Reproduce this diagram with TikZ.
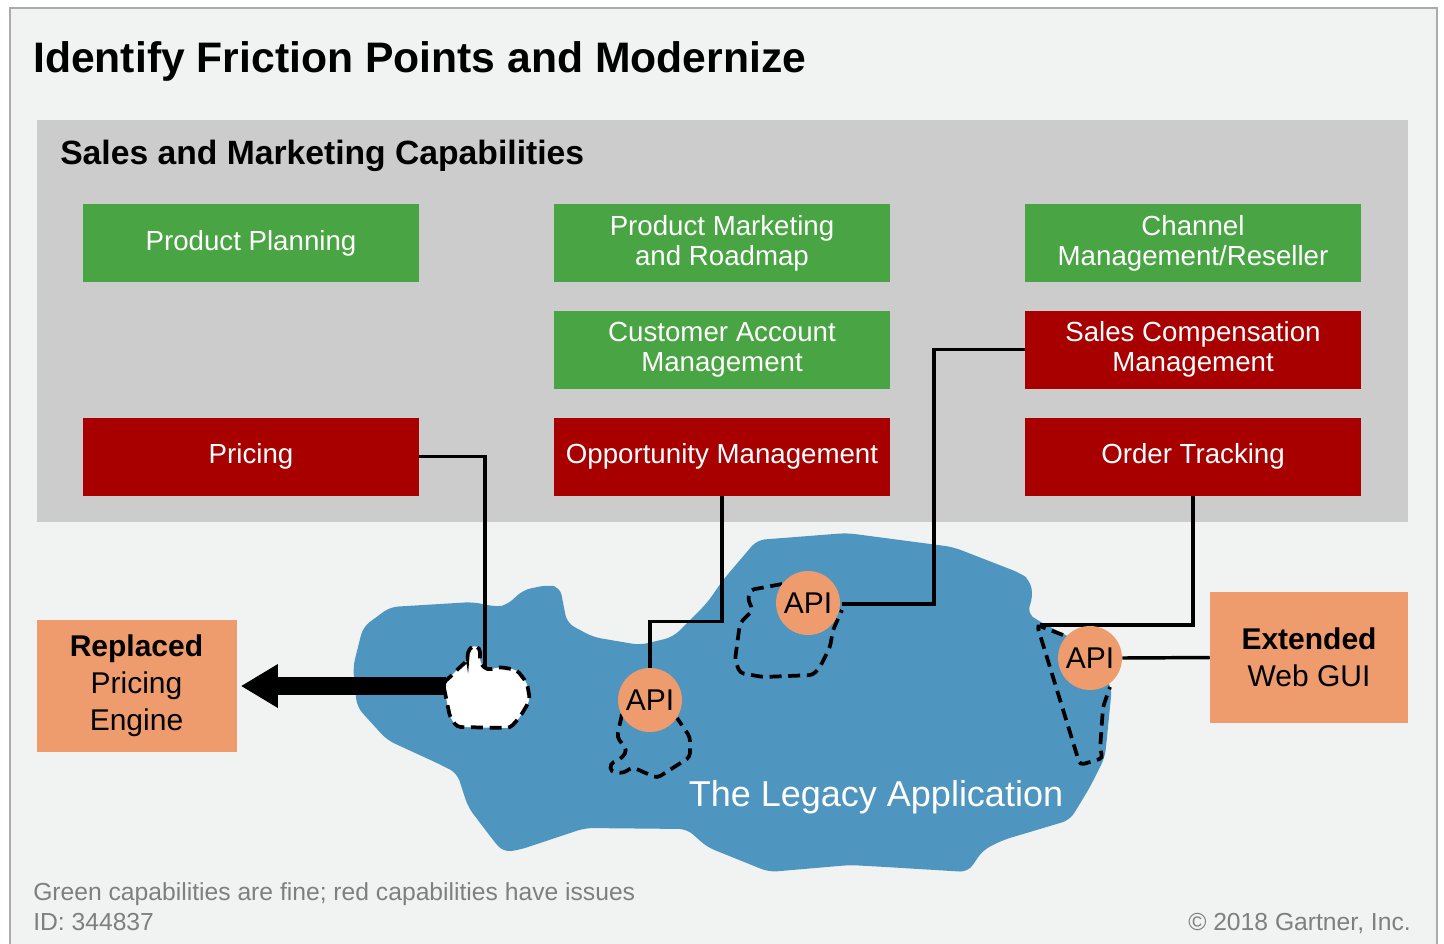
\documentclass[tikz,border=0pt]{standalone}
\usepackage{fontspec}
\setmainfont{Liberation Sans}
\usetikzlibrary{arrows.meta}
\definecolor{pagebg}{HTML}{F1F2F2}
\definecolor{framegrey}{HTML}{ABABAB}
\definecolor{panelgrey}{HTML}{CCCCCC}
\definecolor{okgreen}{HTML}{49A443}
\definecolor{issuered}{HTML}{A80000}
\definecolor{salmon}{HTML}{EE9B6D}
\definecolor{legacyblue}{HTML}{4E95C0}
\definecolor{notegrey}{HTML}{7F7F7F}
\begin{document}
\begin{tikzpicture}[x=0.75pt,y=-0.75pt,
	capbox/.style={minimum width=252pt,minimum height=58.5pt,inner sep=0pt,
		text=white,align=center,font=\fontsize{20.75}{22.5}\selectfont},
	capok/.style={capbox,fill=okgreen},
	capbad/.style={capbox,fill=issuered},
	sidebox/.style={fill=salmon,inner sep=0pt,align=center,
		font=\fontsize{22.5}{27.75}\selectfont},
	apicirc/.style={circle,fill=salmon,minimum size=48pt,inner sep=0pt,
		font=\fontsize{22.5}{24}\selectfont},
	cutline/.style={line width=2.8pt,dash pattern=on 9pt off 5pt,rounded corners=3pt},
	link/.style={line width=2.6pt}]
	\useasboundingbox (0,0) rectangle (1444,943);
	\clip (0,0) rectangle (1444,943);
	%背景和标题
	\draw[framegrey,fill=pagebg,line width=1.5pt] (10,8) rectangle (1437,970);
	\node[anchor=base west,inner sep=0pt,font=\fontsize{32}{34}\bfseries] (title) at (33,72)
		{Identify Friction Points and Modernize};
	\fill[panelgrey] (37,120) rectangle (1408,522);
	\node[anchor=base west,inner sep=0pt,font=\fontsize{25.25}{27}\bfseries] (panel) at (60,164)
		{Sales and Marketing Capabilities};
	%能力方块
	\node[capok] (planning) at (251,243) {Product Planning};
	\node[capok] (marketing) at (722,243) {Product Marketing\\and Roadmap};
	\node[capok] (channel) at (1193,243) {Channel\\Management/Reseller};
	\node[capok] (account) at (722,349.5) {Customer Account\\Management};
	\node[capbad] (salescomp) at (1193,349.5) {Sales Compensation\\Management};
	\node[capbad] (pricing) at (251,456.5) {Pricing};
	\node[capbad] (opportunity) at (722,456.5) {Opportunity Management};
	\node[capbad] (tracking) at (1193,456.5) {Order Tracking};
	%遗留系统
	\fill[legacyblue,rounded corners=6pt] (363,627) -- (390,607) -- (473,602) -- (497,607)
		-- (507,605) -- (523,590) -- (547,585) -- (560,587) -- (567,623) -- (593,637)
		-- (640,645) -- (673,637) -- (707,603) -- (723,580) -- (757,540) -- (847,533)
		-- (953,547) -- (1020,573) -- (1030,580) -- (1033,597) -- (1027,613) -- (1037,620)
		-- (1075,640) -- (1112,687) -- (1105,757) -- (1090,787) -- (1070,820) -- (1003,840)
		-- (983,850) -- (968,872) -- (886,867) -- (850,865) -- (769,872) -- (707,847)
		-- (687,829) -- (585,828) -- (519,850) -- (503,852) -- (493,840) -- (468,807)
		-- (457,773) -- (437,763) -- (387,740) -- (357,707) -- (353,667) -- cycle;
	\node[anchor=base,inner sep=0pt,text=white,font=\fontsize{27}{28}\selectfont] (legacy)
		at (876,806) {The Legacy Application};
	\draw[cutline,fill=white] (443,683) -- (450,717) -- (457,727) -- (510,728) -- (520,717)
		-- (530,700) -- (527,683) -- (517,670) -- (500,667) -- (487,670) -- (480,663)
		-- (480,648) -- (473,645) -- (467,653) -- (468,660) -- (460,667) -- (450,677) -- cycle;
	\coordinate (oldpricing) at (485,667);
	\coordinate (oldwest) at (446,686);
	\draw[cutline] (622,714) -- (617,737) -- (627,750) -- (622,758) -- (610,764) -- (611,772)
		-- (624,773) -- (632,767) -- (657,778) -- (690,757) -- (690,737) -- (677,718);
	\draw[cutline] (782,584) -- (750,590) -- (748,600) -- (753,610) -- (740,623) -- (735,660)
		-- (740,673) -- (763,677) -- (813,675) -- (820,667) -- (830,647) -- (833,630) -- (842,610);
	\draw[cutline] (1063,635) -- (1037,625) -- (1080,765) -- (1103,758) -- (1100,750)
		-- (1103,707) -- (1110,687);
	\coordinate (trackend) at (1040,625);
	%外部方块
	\node[sidebox,minimum width=150pt,minimum height=99pt] (replaced) at (136.5,686)
		{\textbf{Replaced}\\Pricing\\Engine};
	\node[sidebox,minimum width=148.5pt,minimum height=98.25pt] (extended) at (1309,657.5)
		{\textbf{Extended}\\Web GUI};
	%连线
	\draw[link] (pricing.east) -| (oldpricing);
	\draw[link] (opportunity.south) -- ++(0,125.5) -| (650,668);
	\draw[link] (salescomp.west) -- (934,349.5) |- (842,604);
	\draw[link] (tracking.south) |- (trackend);
	\draw[line width=13.5pt,-{Triangle[length=27.75pt,width=30.75pt]}] (oldwest) -- ([xshift=3]replaced.east);
	%API
	\node[apicirc] (api1) at (650,700) {API};
	\node[apicirc] (api2) at (808,603) {API};
	\node[apicirc] (api3) at (1090,658) {API};
	\draw[link] (api3.east) -- (extended.west);
	%脚注
	\node[anchor=base west,inner sep=0pt,text=notegrey,font=\fontsize{18.5}{20}\selectfont] (note)
		at (33,900) {Green capabilities are fine; red capabilities have issues};
	\node[anchor=base west,inner sep=0pt,text=notegrey,font=\fontsize{18.5}{20}\selectfont] (docid)
		at (33,930) {ID: 344837};
	\node[anchor=base east,inner sep=0pt,text=notegrey,font=\fontsize{18.5}{20}\selectfont] (copy)
		at (1411,930) {© 2018 Gartner, Inc.};
\end{tikzpicture}
\end{document}
